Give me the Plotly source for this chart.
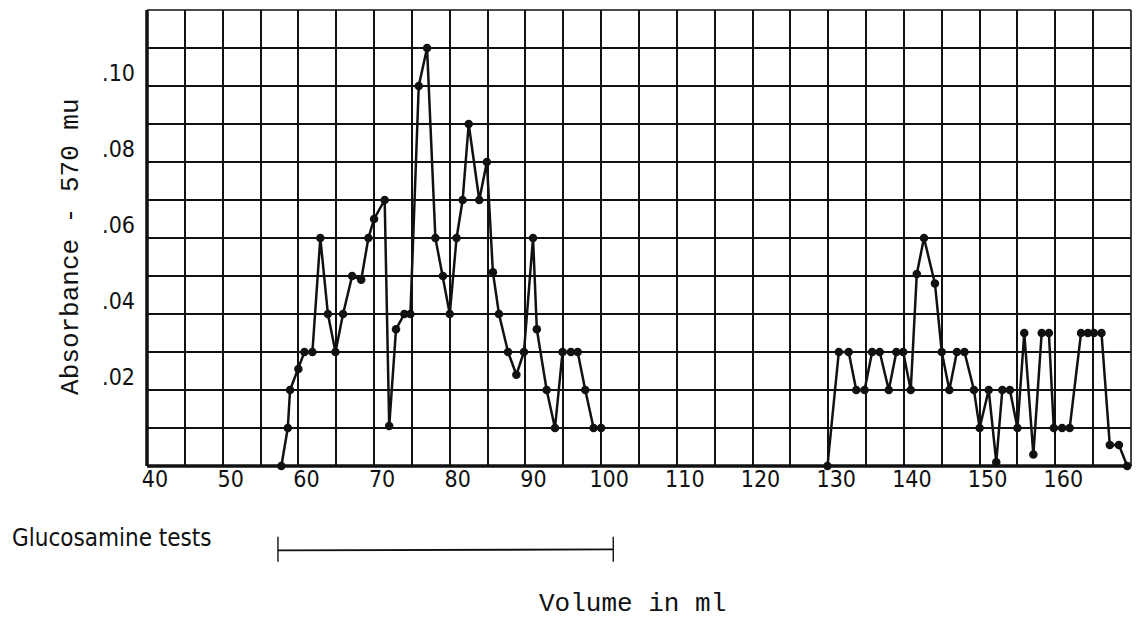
import plotly.graph_objects as go

# ---- data ----
vol_a = [57.75, 58.6, 58.9, 60.0, 60.8, 61.85, 62.9, 63.9, 64.9, 65.9, 67.1, 68.3,
         69.25, 70.0, 71.4, 72.0, 72.9, 74.0, 74.8, 75.9, 77.0, 78.1, 79.1, 80.0,
         80.9, 81.7, 82.5, 83.9, 84.9, 85.7, 86.5, 87.7, 88.8, 89.8, 91.0, 91.5,
         92.8, 93.9, 94.9, 96.0, 96.9, 97.9, 99.0, 100.0]
abs_a = [0.0, 0.010, 0.020, 0.0255, 0.030, 0.030, 0.060, 0.040, 0.030, 0.040, 0.050, 0.049,
         0.060, 0.065, 0.070, 0.0105, 0.036, 0.040, 0.040, 0.100, 0.110, 0.060, 0.050, 0.040,
         0.060, 0.070, 0.090, 0.070, 0.080, 0.051, 0.040, 0.030, 0.024, 0.030, 0.060, 0.036,
         0.020, 0.010, 0.030, 0.030, 0.030, 0.020, 0.010, 0.010]

vol_b = [129.9, 131.4, 132.7, 133.7, 134.8, 135.8, 136.8, 138.0, 139.0, 139.9, 140.9, 141.7,
         142.65, 144.1, 145.0, 146.0, 147.0, 148.0, 149.25, 150.0, 151.2, 152.2, 153.0, 154.0,
         155.0, 155.9, 157.1, 158.2, 159.15, 159.8, 160.9, 161.9, 163.4, 164.3, 165.1, 166.1,
         167.2, 168.4, 169.5]
abs_b = [0.0, 0.030, 0.030, 0.020, 0.020, 0.030, 0.030, 0.020, 0.030, 0.030, 0.020, 0.0505,
         0.060, 0.048, 0.030, 0.020, 0.030, 0.030, 0.020, 0.010, 0.020, 0.001, 0.020, 0.020,
         0.010, 0.035, 0.003, 0.035, 0.035, 0.010, 0.010, 0.010, 0.035, 0.035, 0.035, 0.035,
         0.0055, 0.0055, 0.0]

x_ticks = [40, 50, 60, 70, 80, 90, 100, 110, 120, 130, 140, 150, 160]
y_ticks = [0.02, 0.04, 0.06, 0.08, 0.10]
y_tick_text = [".02", ".04", ".06", ".08", ".10"]
glucosamine_range = [57.3, 101.6]

X_RANGE = [40, 170]
Y_RANGE = [0, 0.12]

NARROW = "Liberation Sans Narrow, DejaVu Sans Condensed, Liberation Sans, sans-serif"
MONO = "Liberation Mono, DejaVu Sans Mono, monospace"
INK = "#111111"

fig = go.Figure()
for xs, ys in ((vol_a, abs_a), (vol_b, abs_b)):
    fig.add_trace(go.Scatter(
        x=xs, y=ys, mode="lines+markers",
        line=dict(color=INK, width=2.5),
        marker=dict(color=INK, size=8.5),
        showlegend=False, cliponaxis=False,
    ))

fig.update_xaxes(
    range=X_RANGE, tickvals=x_ticks, ticktext=[str(v) for v in x_ticks],
    showgrid=True, gridcolor=INK, gridwidth=1.6,
    minor=dict(dtick=5, tick0=40, showgrid=True, gridcolor=INK, gridwidth=1.6),
    ticks="", zeroline=False, showline=False,
    tickfont=dict(family=NARROW, size=23, color=INK),
    ticklabelshift=8, ticklabelstandoff=-3,
)
fig.update_yaxes(
    range=Y_RANGE, tickvals=y_ticks, ticktext=y_tick_text,
    showgrid=True, gridcolor=INK, gridwidth=1.6,
    minor=dict(dtick=0.01, tick0=0, showgrid=True, gridcolor=INK, gridwidth=1.6),
    ticks="", zeroline=False, showline=False,
    tickfont=dict(family=NARROW, size=23, color=INK),
    ticklabelshift=-13, ticklabelstandoff=11,
)

# frame: thick left/bottom axes, thin top/right edges
fig.add_shape(type="line", xref="paper", yref="paper", x0=0, x1=1, y0=0, y1=0,
              line=dict(color=INK, width=3.5))
fig.add_shape(type="line", xref="paper", yref="paper", x0=0, x1=0, y0=0, y1=1,
              line=dict(color=INK, width=3.5))
fig.add_shape(type="line", xref="paper", yref="paper", x0=0, x1=1, y0=1, y1=1,
              line=dict(color=INK, width=1.6))
fig.add_shape(type="line", xref="paper", yref="paper", x0=1, x1=1, y0=0, y1=1,
              line=dict(color=INK, width=1.6))

# glucosamine tests bracket
g0, g1 = glucosamine_range
fig.add_shape(type="line", xref="x", yref="paper", x0=g0, x1=g1, y0=-0.185, y1=-0.183,
              line=dict(color=INK, width=1.8))
for gx in (g0, g1):
    fig.add_shape(type="line", xref="x", yref="paper", x0=gx, x1=gx, y0=-0.155, y1=-0.21,
                  line=dict(color=INK, width=1.4))

fig.add_annotation(text="Glucosamine tests", xref="paper", yref="paper",
                   x=-0.139, y=-0.158, xanchor="left", yanchor="middle", showarrow=False,
                   font=dict(family=NARROW, size=24, color=INK))
fig.add_annotation(text="Volume in ml", xref="paper", yref="paper",
                   x=0.493, y=-0.303, xanchor="center", yanchor="middle", showarrow=False,
                   font=dict(family=MONO, size=26, color=INK))
fig.add_annotation(text="Absorbance - 570 mu", xref="paper", yref="paper", textangle=-90,
                   x=-0.078, y=0.481, xanchor="center", yanchor="middle", showarrow=False,
                   font=dict(family=MONO, size=26, color=INK))

fig.update_layout(
    width=1136, height=622,
    margin=dict(l=147, r=5, t=10, b=156),
    paper_bgcolor="white", plot_bgcolor="white",
)

fig.write_html("out.html")
